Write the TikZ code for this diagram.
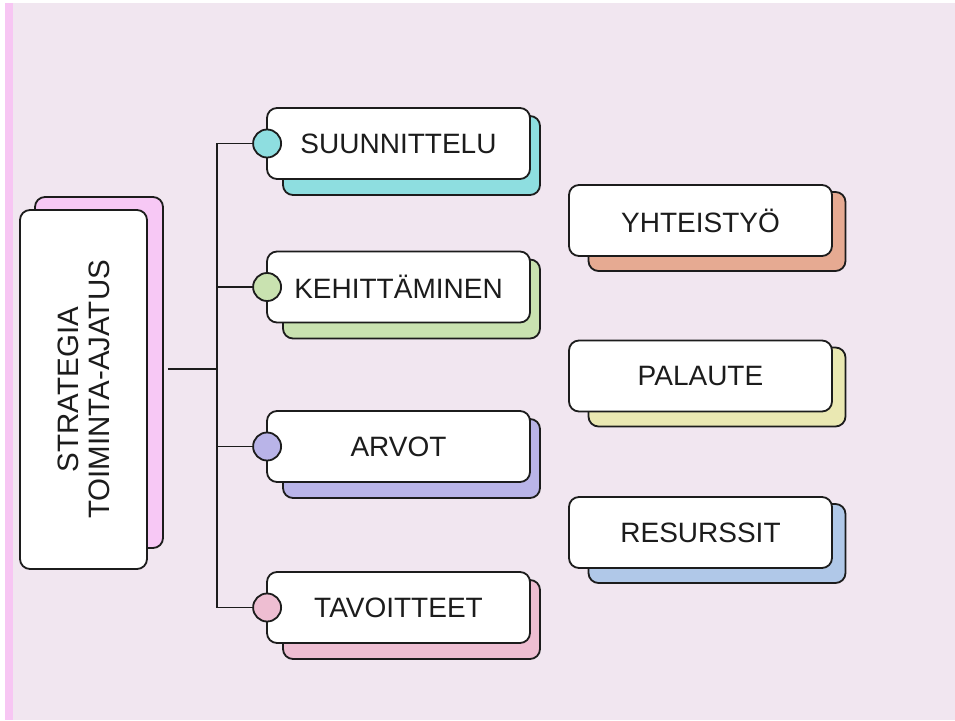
\documentclass[tikz,border=0pt]{standalone}
\usepackage{fontspec}
\setmainfont{Liberation Sans}
\definecolor{bg}{RGB}{241,230,240}
\definecolor{strip}{RGB}{247,198,243}
\definecolor{ink}{RGB}{28,28,28}
\definecolor{cteal}{RGB}{142,222,224}
\definecolor{cgreen}{RGB}{201,226,176}
\definecolor{clav}{RGB}{185,180,232}
\definecolor{cpink}{RGB}{238,190,210}
\definecolor{csalmon}{RGB}{230,170,146}
\definecolor{cyellow}{RGB}{234,232,178}
\definecolor{cblue}{RGB}{176,200,232}
\definecolor{cmain}{RGB}{247,200,245}
\begin{document}
\begin{tikzpicture}[x=1pt,y=-1pt,
  front/.style={draw=ink, line width=1.8pt, fill=white, rounded corners=10pt,
    minimum width=263pt, minimum height=71pt, inner sep=0pt,
    font=\fontsize{28}{31}\selectfont, text=ink},
  backbox/.style={draw=ink, line width=1.8pt, rounded corners=10pt,
    minimum width=257pt, minimum height=79pt, inner sep=0pt},
  dot/.style={circle, draw=ink, line width=1.8pt, minimum size=28pt, inner sep=0pt},
  conn/.style={draw=ink, line width=1.8pt}
]
\useasboundingbox (0,0) rectangle (955,720);
\fill[white] (0,0) rectangle (955,720);
\fill[bg] (5,3) rectangle (955,720);
\fill[strip] (5,3) rectangle (13,720);

% main box
\node[draw=ink, line width=1.8pt, fill=cmain, rounded corners=10pt, minimum width=128pt, minimum height=351pt, inner sep=0pt] (mainb) at (99,372.5) {};
\node[draw=ink, line width=1.8pt, fill=white, rounded corners=10pt, minimum width=359pt, minimum height=127pt, inner sep=0pt,
  font=\fontsize{29.5}{31}\selectfont, text=ink, align=center, rotate=90] (main) at (83.5,389.5) {STRATEGIA\\TOIMINTA-AJATUS};

% left branch boxes
\node[backbox, fill=cteal] (sunb) at (411.5,155.5) {};
\node[front] (sun) at (398.5,143.5) {SUUNNITTELU};
\node[backbox, fill=cgreen] (kehb) at (411.5,299) {};
\node[front] (keh) at (398.5,287) {KEHITTÄMINEN};
\node[backbox, fill=clav] (arvb) at (411.5,458.5) {};
\node[front] (arv) at (398.5,446.5) {ARVOT};
\node[backbox, fill=cpink] (tavb) at (411.5,619.5) {};
\node[front] (tav) at (398.5,607.5) {TAVOITTEET};

% right boxes
\node[backbox, fill=csalmon] (yhtb) at (717,231.5) {};
\node[front] (yht) at (700.5,220.5) {YHTEISTYÖ};
\node[backbox, fill=cyellow] (palb) at (717,387) {};
\node[front] (pal) at (700.5,376) {PALAUTE};
\node[backbox, fill=cblue] (resb) at (717,543.5) {};
\node[front] (res) at (700.5,532.5) {RESURSSIT};

% connectors
\coordinate (spine) at (217,369);
\draw[conn] (sun.west) -- (sun.west -| spine) -- (tav.west -| spine) -- (tav.west);
\draw[conn] (keh.west) -- (keh.west -| spine);
\draw[conn] (arv.west) -- (arv.west -| spine);
\draw[conn] ([xshift=4pt]mainb.east |- spine) -- (spine);

% dots
\node[dot, fill=cteal] (dsun) at ([xshift=1pt]sun.west) {};
\node[dot, fill=cgreen] (dkeh) at ([xshift=1pt]keh.west) {};
\node[dot, fill=clav] (darv) at ([xshift=1pt]arv.west) {};
\node[dot, fill=cpink] (dtav) at ([xshift=1pt]tav.west) {};
\end{tikzpicture}
\end{document}
